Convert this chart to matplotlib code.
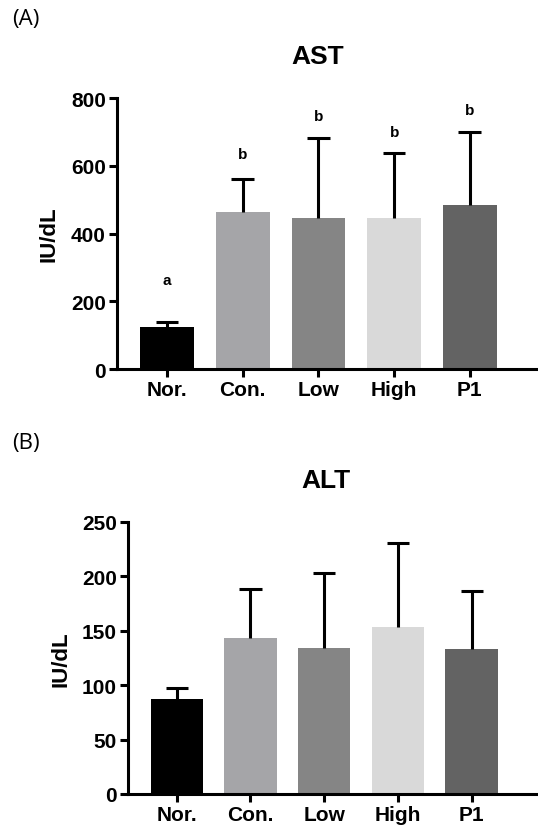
import matplotlib
matplotlib.use("Agg")
import matplotlib.pyplot as plt
import numpy as np

groups = ["Nor.", "Con.", "Low", "High", "P1"]
colors = ["#000000", "#a5a5a8", "#858585", "#d9d9d9", "#636363"]

ast_mean = [123, 465, 446, 446, 485]
ast_upper = [138, 562, 681, 637, 700]
ast_letters = ["a", "b", "b", "b", "b"]
ast_letter_y = [262, 635, 748, 700, 766]

alt_mean = [87, 143, 134, 153, 133]
alt_upper = [97.5, 188, 202.5, 230.5, 186]

plt.rcParams['font.family'] = ['Liberation Sans', 'DejaVu Sans']

fig = plt.figure(figsize=(5.38, 8.28), dpi=100)


def draw(ax, mean, upper, ylim, yticks, label_x):
    x = np.arange(len(groups))
    ax.bar(x, mean, width=0.71, color=colors, zorder=2)
    ax.vlines(x, mean, upper, colors='black', linewidth=2.2, zorder=3)
    ax.hlines(upper, x - 0.15, x + 0.15, colors='black', linewidth=2.2, zorder=3)
    ax.set_xlim(-0.66, 4.9)
    ax.set_ylim(*ylim)
    ax.set_yticks(yticks)
    ax.set_xticks(x)
    ax.set_xticklabels(groups, fontsize=15, fontweight='bold')
    for lab in ax.get_yticklabels():
        lab.set_fontsize(15)
        lab.set_fontweight('bold')
    ax.spines['top'].set_visible(False)
    ax.spines['right'].set_visible(False)
    ax.spines['left'].set_linewidth(2.2)
    ax.spines['bottom'].set_linewidth(2.2)
    ax.tick_params(axis='both', width=2.2, length=6, pad=2)
    ax.set_ylabel("IU/dL", fontsize=16, fontweight='bold', va='center')
    ax.yaxis.set_label_coords(label_x, 0.5)


ax1 = fig.add_axes([0.2175, 0.5531, 0.7825, 0.3273])
draw(ax1, ast_mean, ast_upper, (0, 800), [0, 200, 400, 600, 800], -0.162)
for i, (l, ly) in enumerate(zip(ast_letters, ast_letter_y)):
    ax1.text(i, ly, l, ha='center', va='center', fontsize=11, fontweight='bold')

ax2 = fig.add_axes([0.238, 0.0399, 0.762, 0.3288])
draw(ax2, alt_mean, alt_upper, (0, 250), [0, 50, 100, 150, 200, 250], -0.163)

fig.text(318 / 538, 1 - 57 / 828, "AST", ha='center', va='center', fontsize=19, fontweight='bold')
fig.text(326 / 538, 1 - 481 / 828, "ALT", ha='center', va='center', fontsize=19, fontweight='bold')
fig.text(12 / 538, 1 - 19 / 828, "(A)", ha='left', va='center', fontsize=16, family=['Open Sans', 'DejaVu Sans'])
fig.text(12 / 538, 1 - 444 / 828, "(B)", ha='left', va='center', fontsize=16, family=['Open Sans', 'DejaVu Sans'])

fig.savefig("out.png", dpi=100)
